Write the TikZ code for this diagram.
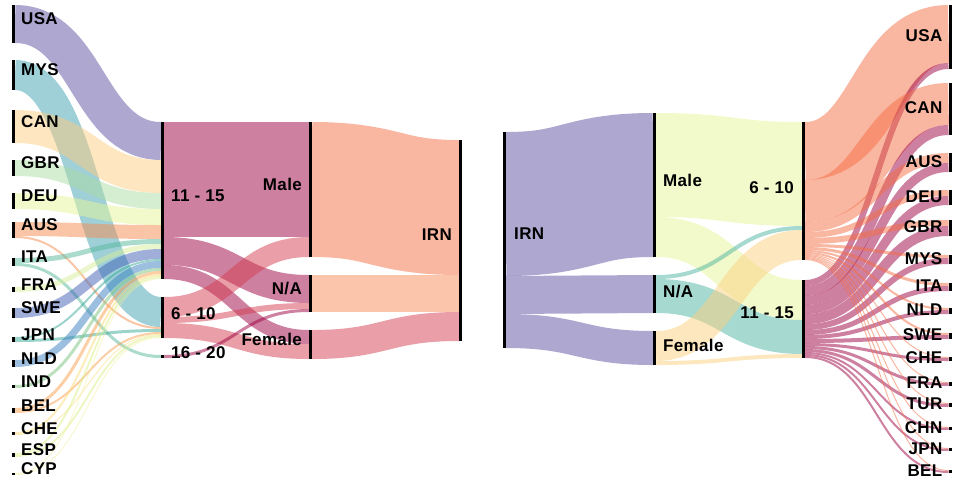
\documentclass[tikz,border=0pt]{standalone}
\usepackage{fontspec}
\setmainfont{Liberation Sans}[LetterSpace=2]
\usepackage{tikz}
\usetikzlibrary{positioning,calc,backgrounds}

% link colours (drawn at half opacity)
\definecolor{cUSA}{HTML}{5E4FA2}
\definecolor{cMYS}{HTML}{3F9FAF}
\definecolor{cCAN}{HTML}{FBCD82}
\definecolor{cGBR}{HTML}{ABDDA4}
\definecolor{cDEU}{HTML}{E6F598}
\definecolor{cAUS}{HTML}{F68C4F}
\definecolor{cITA}{HTML}{55B89A}
\definecolor{cFRA}{HTML}{D7EE9A}
\definecolor{cSWE}{HTML}{3F5FB5}
\definecolor{cJPN}{HTML}{3AAA9A}
\definecolor{cNLD}{HTML}{3A7FC0}
\definecolor{cIND}{HTML}{7CC47E}
\definecolor{cBEL}{HTML}{F9A04F}
\definecolor{cCHE}{HTML}{FCDC78}
\definecolor{cESP}{HTML}{DCEF8A}
\definecolor{cCYP}{HTML}{F4F0A0}
\definecolor{c1115}{HTML}{9E0142}
\definecolor{c610}{HTML}{D53E4F}
\definecolor{cMale}{HTML}{F46D43}
\definecolor{cNA}{HTML}{F88C58}
\definecolor{cFem}{HTML}{D53E4F}
\definecolor{cIRN}{HTML}{5E4FA2}
\definecolor{cRMale}{HTML}{E6F598}
\definecolor{cRNA}{HTML}{4DB39F}
\definecolor{cRFem}{HTML}{FCD07F}
\definecolor{cR610}{HTML}{F46D43}
\definecolor{cR1115}{HTML}{9E0142}

\tikzset{
  bar/.style={fill=black, minimum width=3pt, inner sep=0pt, outer sep=0pt, anchor=north},
  lbl/.style={font=\bfseries\fontsize{17}{20}\selectfont, inner sep=0pt},
  link/.style={draw opacity=.5, line cap=butt}
}

% colour, source, offset, target, offset, value
\newcommand{\sflow}[6]{%
  \begin{pgfonlayer}{background}
  \path ($(#2)+(0,#3+#6/2)$) coordinate (fa)
        ($(#4)+(0,#5+#6/2)$) coordinate (fb)
        ($(fa)!.5!(fb)$) coordinate (fm);
  \draw[link, draw=#1, line width=#6pt] (fa) .. controls (fm |- fa) and (fm |- fb) .. (fb);
  \end{pgfonlayer}}

\begin{document}
\begin{tikzpicture}[x=1pt, y=-1pt]
\useasboundingbox (0,0) rectangle (955,483);

%% left sankey
\foreach \ctry/\t/\h in {USA/5/38, MYS/60/30, CAN/110/33, GBR/160/16, DEU/193/16, AUS/222/16, ITA/258/8, FRA/287/5, SWE/308/10, JPN/337/5, NLD/360/7, IND/385/3, BEL/408/5, CHE/432/3, ESP/453/4, CYP/473/2}{
  \node[bar, minimum height=\h pt] (l\ctry) at (13.5,\t) {};
  \node[lbl, right=6pt of l\ctry, yshift=5pt] (tl\ctry) {\ctry};
}

\node[bar, minimum height=157pt] (a1115) at (162.5,122) {};
\node[bar, minimum height=41pt] (a610) at (162.5,297) {};
\node[bar, minimum height=3pt] (a1620) at (162.5,355) {};
\node[lbl, right=7pt of a1115, yshift=4.5pt] (ta1115) {11 - 15};
\node[lbl, right=7pt of a610, yshift=3.5pt] (ta610) {6 - 10};
\node[lbl, right=7pt of a1620, yshift=4pt] (ta1620) {16 - 20};

\node[bar, minimum height=135pt] (gMale) at (310.5,122) {};
\node[bar, minimum height=37pt] (gNA) at (310.5,275) {};
\node[bar, minimum height=29pt] (gFem) at (310.5,330) {};
\node[lbl, left=7pt of gMale, yshift=5pt] (tgMale) {Male};
\node[lbl, left=7pt of gNA, yshift=4.5pt] (tgNA) {N/A};
\node[lbl, left=7pt of gFem, yshift=5.5pt] (tgFem) {Female};

\node[bar, minimum height=201pt] (lIRN) at (460.5,140) {};
\node[lbl, left=7pt of lIRN, yshift=5.5pt] (tlIRN) {IRN};

\foreach \ctry/\offs/\dst/\offd/\val in {USA/0/a1115/0/38, MYS/0/a610/0/30, CAN/0/a1115/38/33, GBR/0/a1115/71/16, DEU/0/a1115/87/16, AUS/0/a1115/103/14, AUS/14/a610/30/2, ITA/0/a1115/117/5, ITA/5/a1620/0/3, FRA/0/a1115/122/5, SWE/0/a1115/127/10, JPN/0/a1115/137/2, JPN/2/a610/32/3, NLD/0/a1115/139/7, IND/0/a1115/146/3, BEL/0/a1115/149/3, BEL/3/a610/35/2, CHE/0/a1115/152/2, CHE/2/a610/37/1, ESP/0/a1115/154/2, ESP/2/a610/38/2, CYP/0/a1115/156/1, CYP/1/a610/40/1}{
  \sflow{c\ctry}{l\ctry.north east}{\offs}{\dst.north west}{\offd}{\val}
}

\sflow{c1115}{a1115.north east}{0}{gMale.north west}{0}{115}
\sflow{c1115}{a1115.north east}{115}{gNA.north west}{0}{28}
\sflow{c1115}{a1115.north east}{143}{gFem.north west}{0}{14}
\sflow{c610}{a610.north east}{0}{gMale.north west}{115}{20}
\sflow{c610}{a610.north east}{20}{gNA.north west}{28}{6}
\sflow{c610}{a610.north east}{26}{gFem.north west}{14}{15}
\sflow{c1115}{a1620.north east}{0}{gNA.north west}{34}{3}

\sflow{cMale}{gMale.north east}{0}{lIRN.north west}{0}{135}
\sflow{cNA}{gNA.north east}{0}{lIRN.north west}{135}{37}
\sflow{cFem}{gFem.north east}{0}{lIRN.north west}{172}{29}

%% right sankey
\node[bar, minimum height=216pt] (rIRN) at (504.5,132) {};
\node[lbl, right=8pt of rIRN, yshift=6pt] (trIRN) {IRN};

\node[bar, minimum height=144pt] (rMale) at (654.5,113) {};
\node[bar, minimum height=38pt] (rNA) at (654.5,275) {};
\node[bar, minimum height=34pt] (rFem) at (654.5,331) {};
\node[lbl, right=7pt of rMale, yshift=5pt] (trMale) {Male};
\node[lbl, right=7pt of rNA, yshift=2pt] (trNA) {N/A};
\node[lbl, right=7pt of rFem, yshift=2.5pt] (trFem) {Female};

\node[bar, minimum height=138pt] (r610) at (803.5,122) {};
\node[bar, minimum height=78pt] (r1115) at (803.5,280) {};
\node[lbl, left=8pt of r610, yshift=3.5pt] (tr610) {6 - 10};
\node[lbl, left=8pt of r1115, yshift=6pt] (tr1115) {11 - 15};

\sflow{cIRN}{rIRN.north east}{0}{rMale.north west}{0}{144}
\sflow{cIRN}{rIRN.north east}{144}{rNA.north west}{0}{38}
\sflow{cIRN}{rIRN.north east}{182}{rFem.north west}{0}{34}

\sflow{cRMale}{rMale.north east}{0}{r610.north west}{0}{104}
\sflow{cRMale}{rMale.north east}{104}{r1115.north west}{0}{40}
\sflow{cRNA}{rNA.north east}{0}{r610.north west}{104}{4}
\sflow{cRNA}{rNA.north east}{4}{r1115.north west}{40}{34}
\sflow{cRFem}{rFem.north east}{0}{r610.north west}{108}{30}
\sflow{cRFem}{rFem.north east}{30}{r1115.north west}{74}{4}

\foreach \ctry/\t/\h/\offs/\sv/\offp/\pv in {USA/5/64/0/58/0/6, CAN/83/52/58/42/6/10, AUS/153/19/100/10/16/9, DEU/190/15/110/6/25/9, GBR/220/16/116/6/34/10, MYS/255/9/122/3/44/6, ITA/283/8/125/3/50/5, NLD/308/6/128/2/55/4, SWE/333/6/130/2/59/4, CHE/357/4/132/1/63/3, FRA/382/4/133/1/66/3, TUR/403/4/134/1/69/3, CHN/427/3/135/1/72/2, JPN/448/3/136/1/74/2, BEL/470/3/137/1/76/2}{
  \node[bar, minimum height=\h pt] (r\ctry) at (950,\t) {};
  \node[lbl, left=6pt of r\ctry, yshift=1pt] (tr\ctry) {\ctry};
  \sflow{cR610}{r610.north east}{\offs}{r\ctry.north west}{0}{\sv}
  \sflow{cR1115}{r1115.north east}{\offp}{r\ctry.north west}{\sv}{\pv}
}
\end{tikzpicture}
\end{document}
